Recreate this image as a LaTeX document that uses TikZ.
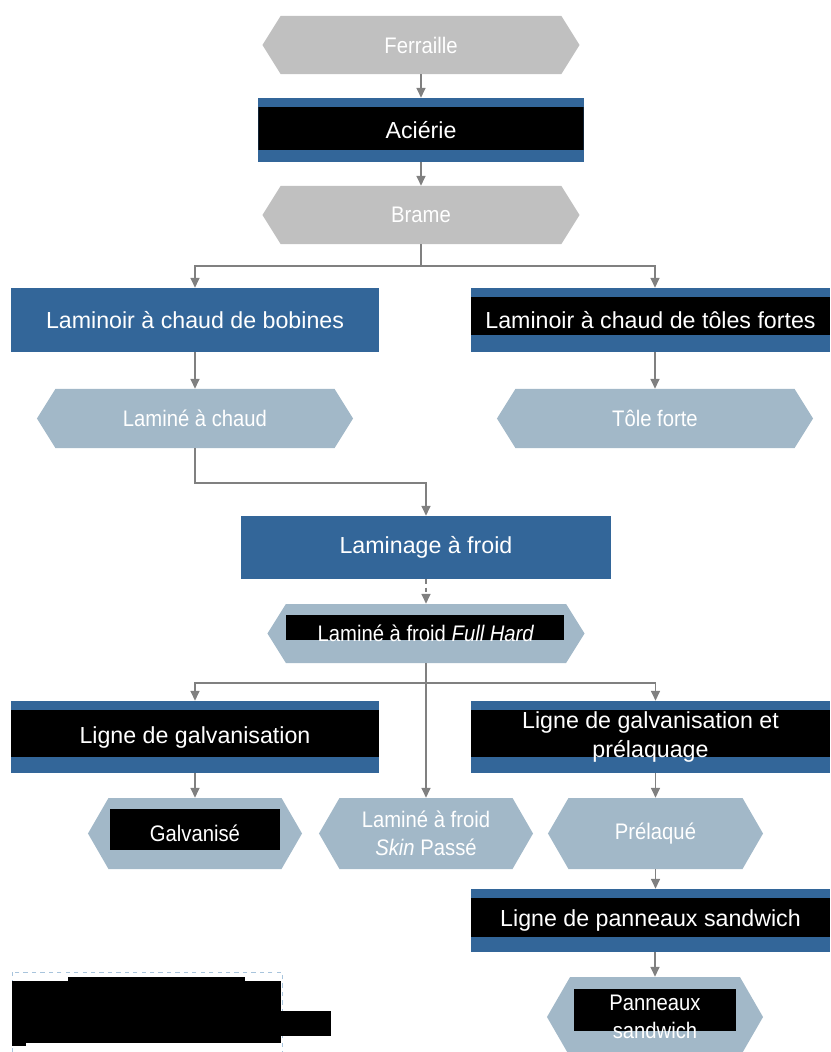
\documentclass[tikz,border=0pt]{standalone}
\usepackage{fontspec}
\setmainfont{Liberation Sans}
\newfontfamily\narrowfont[FakeStretch=0.9]{Liberation Sans}
\usetikzlibrary{shapes.symbols}
\usetikzlibrary{arrows.meta}
\usetikzlibrary{calc}

\definecolor{procblue}{HTML}{336699}
\definecolor{prodgray}{HTML}{C0C0C0}
\definecolor{prodblue}{HTML}{A2B8C8}
\definecolor{flowgray}{HTML}{808080}
\definecolor{framegray}{HTML}{A8C4DC}

\tikzset{
  procbox/.style={rectangle, fill=procblue, text=white, inner sep=0, align=center,
    font=\fontsize{16.5}{20}\selectfont},
  bandbox/.style 2 args={procbox, path picture={
    \fill[black] ($(path picture bounding box.north west)+(0,#1)$)
      rectangle ($(path picture bounding box.south east)+(0,-#2)$);}},
  prodhex/.style={shape=signal, signal to=east and west, signal pointer angle=116,
    fill=prodblue, text=white, inner sep=0, align=center,
    font=\narrowfont\fontsize{16}{20}\selectfont},
  hexband/.style n args={4}{prodhex, path picture={
    \fill[black] ($(path picture bounding box.center)+(#1,#2)$)
      rectangle ($(path picture bounding box.center)+(#3,#4)$);}},
  flow/.style={draw=flowgray, line width=1pt, -{Triangle[width=6.4pt,length=7pt]}}
}

\begin{document}
\begin{tikzpicture}[x=0.025cm, y=-0.025cm]
    \clip (0,0) rectangle (830,1052);

    % raw material and steel plant
    \node[prodhex, fill=prodgray, minimum width=7.925cm, minimum height=1.45cm] (ferraille) at (421,45) {Ferraille};
    \node[bandbox={9}{12}, minimum width=8.125cm, minimum height=1.6cm] (acierie) at (421,130) {Aciérie};
    \node[prodhex, fill=prodgray, minimum width=7.925cm, minimum height=1.45cm] (brame) at (421,215) {Brame};

    % hot rolling
    \node[procbox, minimum width=9.2cm, minimum height=1.6cm] (lcb) at (195,320) {Laminoir à chaud de bobines};
    \node[bandbox={9}{17}, minimum width=8.975cm, minimum height=1.6cm] (lct) at (650.5,320) {Laminoir à chaud de tôles fortes};
    \node[prodhex, minimum width=7.9cm, minimum height=1.475cm] (lac) at (195,418.5) {Laminé à chaud};
    \node[prodhex, minimum width=7.9cm, minimum height=1.475cm] (tf) at (655,418.5) {Tôle forte};

    % cold rolling
    \node[procbox, minimum width=9.225cm, minimum height=1.575cm] (laf) at (426,547.5) {Laminage à froid};
    \node[hexband={-140}{-18.5}{138}{6.5}, minimum width=7.925cm, minimum height=1.475cm] (lfh) at (426,633.5) {Laminé à froid \textit{Full Hard}};

    % coating lines
    \node[bandbox={9}{16}, minimum width=9.2cm, minimum height=1.8cm] (lg) at (195,737) {Ligne de galvanisation};
    \node[bandbox={9}{16}, minimum width=8.975cm, minimum height=1.8cm] (lgp) at (650.5,737) {Ligne de galvanisation et\\prélaquage};
    \node[hexband={-85}{-24.5}{85}{16.5}, signal pointer angle=120, minimum width=5.35cm, minimum height=1.775cm] (galv) at (195,833.5) {Galvanisé};
    \node[prodhex, signal pointer angle=120, minimum width=5.35cm, minimum height=1.775cm] (lsp) at (426,833.5) {Laminé à froid\\\textit{Skin} Passé};
    \node[prodhex, signal pointer angle=120, minimum width=5.375cm, minimum height=1.775cm] (prel) at (655.5,833.5) {Prélaqué};

    % sandwich panels
    \node[bandbox={9}{15}, minimum width=8.975cm, minimum height=1.575cm] (lps) at (650.5,920.5) {Ligne de panneaux sandwich};
    \node[hexband={-81}{-28}{81}{14}, signal pointer angle=120, minimum width=5.4cm, minimum height=2cm] (pan) at (655,1017) {Panneaux\\sandwich};

    % connectors
    \coordinate (split1) at (421,266);
    \coordinate (bend1) at (195,483);
    \coordinate (split2) at (426,683);
    \draw[flow] (ferraille.south) -- (acierie.north);
    \draw[flow] (acierie.south) -- (brame.north);
    \draw[flow] (brame.south) -- (split1) -| (lcb.north);
    \draw[flow] (split1) -| (lct.north -| tf.north);
    \draw[flow] (lcb.south) -- (lac.north);
    \draw[flow] (lct.south -| tf.north) -- (tf.north);
    \draw[flow] (lac.south) -- (bend1) -| (laf.north);
    \draw[flow, dashed] (laf.south) -- (lfh.north);
    \draw[flow] (lfh.south) -- (lsp.north);
    \draw[flow] (split2) -| (lg.north);
    \draw[flow] (split2) -| (lgp.north -| prel.north);
    \draw[flow] (lg.south) -- (galv.north);
    \draw[flow] (lgp.south -| prel.north) -- (prel.north);
    \draw[flow] (prel.south) -- (lps.north -| prel.south);
    \draw[flow] (lps.south -| pan.north) -- (pan.north);

    % masked block, bottom left
    \draw[framegray, dashed, line width=0.4pt] (12,972) rectangle (282,1060);
    \fill[black] (12,981) rectangle (281,1043);
    \fill[black] (68,977) rectangle (245,982);
    \fill[black] (280,1011) rectangle (331,1036);
    \fill[black] (12,1040) rectangle (26,1046);
\end{tikzpicture}
\end{document}
